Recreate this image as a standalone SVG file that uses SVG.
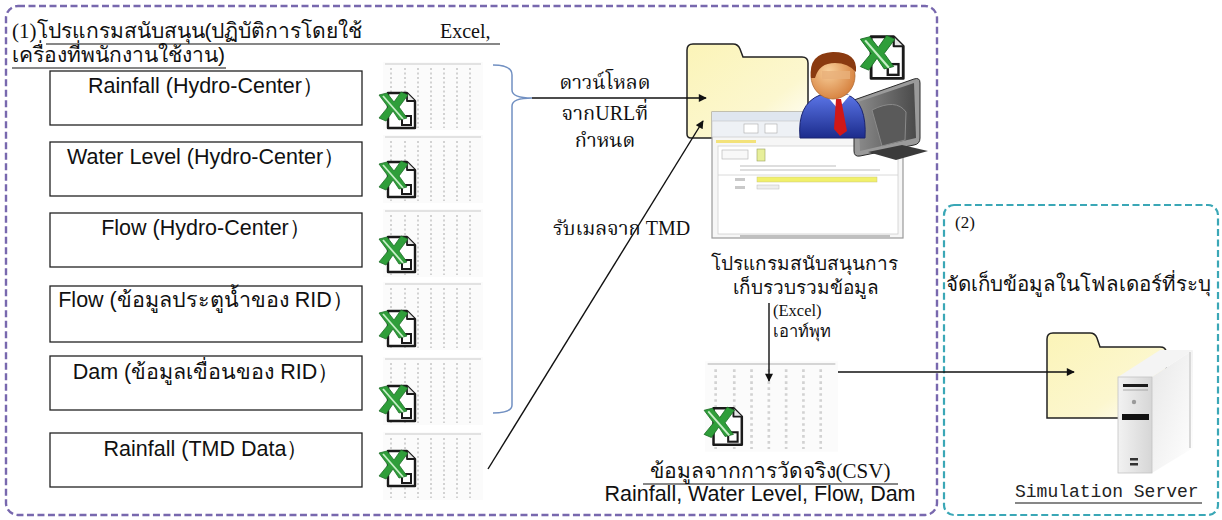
<svg xmlns="http://www.w3.org/2000/svg" width="1222" height="520" viewBox="0 0 1222 520">
  <style>
    .sans { font-family: "Liberation Sans", Arial, "Noto Sans", sans-serif; fill: #111; }
    .serif { font-family: "Liberation Serif", "Times New Roman", "Norasi", "Noto Serif Thai", serif; fill: #111; }
    .mono { font-family: "Liberation Mono", "DejaVu Sans Mono", monospace; fill: #222; }
    .src { fill: #fff; stroke: #222; stroke-width: 1.3; }
    .lbl { font-size: 21.5px; }
    .ul { stroke: #111; stroke-width: 1.2; }
    .conn { fill: none; stroke: #111; stroke-width: 1.4; }
    .folder { stroke: #222; stroke-width: 1.5; }
  </style>
  <defs>
    <marker id="arrow" viewBox="0 0 10 10" refX="9" refY="5" markerWidth="9" markerHeight="8" orient="auto" markerUnits="userSpaceOnUse">
      <path d="M0,0 L10,5 L0,10 Z" fill="#111"/>
    </marker>
    <linearGradient id="folderFill" x1="0" y1="0" x2="1" y2="1">
      <stop offset="0" stop-color="#fbf4b8"/>
      <stop offset="0.65" stop-color="#fcf7cf"/>
      <stop offset="1" stop-color="#ffffff"/>
    </linearGradient>
    <radialGradient id="skin" cx="0.4" cy="0.4" r="0.7">
      <stop offset="0" stop-color="#f8cf9a"/>
      <stop offset="1" stop-color="#d37a36"/>
    </radialGradient>
    <linearGradient id="suit" x1="0" y1="0" x2="0" y2="1">
      <stop offset="0" stop-color="#5a74e6"/>
      <stop offset="1" stop-color="#1c2c8c"/>
    </linearGradient>
    <linearGradient id="screenBack" x1="0" y1="0" x2="1" y2="0">
      <stop offset="0" stop-color="#8a8a8a"/>
      <stop offset="1" stop-color="#4a4a4a"/>
    </linearGradient>
    <linearGradient id="tower" x1="0" y1="0" x2="1" y2="0">
      <stop offset="0" stop-color="#f2f2f2"/>
      <stop offset="1" stop-color="#d6d6d6"/>
    </linearGradient>
    <linearGradient id="towerSide" x1="0" y1="0" x2="1" y2="1">
      <stop offset="0" stop-color="#e8e8e8"/>
      <stop offset="1" stop-color="#ffffff"/>
    </linearGradient>

    <!-- spreadsheet document icon: page with folded corner and green X -->
    <symbol id="xls" viewBox="0 0 40 42">
      <path d="M10,4 L29,4 L37,12 L37,39 L10,39 Z" fill="#fff" stroke="#1a1a1a" stroke-width="2.4" stroke-linejoin="round"/>
      <path d="M29,4 L29,12 L37,12" fill="#e6e6e6" stroke="#1a1a1a" stroke-width="1.8" stroke-linejoin="round"/>
      <rect x="24" y="27" width="9" height="9" fill="#fff" stroke="#1a1a1a" stroke-width="2"/>
      <path d="M1,6 L9,4 L16,13 L23,3 L30,6 L21,18 L29,29 L21,31 L15,22 L8,32 L1,29 L10,18 Z" fill="#2f9e3a" stroke="#1e6e28" stroke-width="0.8"/>
      <path d="M5,7 L25,30" stroke="#c8efc8" stroke-width="1.8"/>
    </symbol>

    <!-- faint data-sheet thumbnail -->
    <symbol id="sheet" viewBox="0 0 100 68">
      <rect x="0" y="0" width="100" height="68" fill="#fbfbfb"/>
      <line x1="2" y1="2" x2="98" y2="2" stroke="#c9c9c9" stroke-width="1.2"/>
      <g stroke="#d2d2d2" stroke-width="2" stroke-dasharray="2 2.5">
        <line x1="8" y1="6" x2="8" y2="66"/>
        <line x1="22" y1="6" x2="22" y2="66"/>
        <line x1="35" y1="6" x2="35" y2="66"/>
        <line x1="48" y1="6" x2="48" y2="66"/>
        <line x1="61" y1="6" x2="61" y2="66"/>
        <line x1="74" y1="6" x2="74" y2="66"/>
        <line x1="87" y1="6" x2="87" y2="66"/>
      </g>
    </symbol>
  </defs>

  <rect width="1222" height="520" fill="#ffffff"/>

  <!-- (1) support program area -->
  <g id="area-1">
    <rect x="6" y="6" width="931" height="509" rx="12" fill="none" stroke="#7868ae" stroke-width="2.4" stroke-dasharray="7 3.5"/>
    <text x="12" y="38" font-size="21"><tspan class="serif">(1)</tspan><tspan class="sans">โปรแกรมสนับสนุน(ปฏิบัติการโดยใช้</tspan></text>
    <text x="440" y="38" class="serif" font-size="20">Excel,</text>
    <line class="ul" x1="46" y1="44" x2="500" y2="44"/>
    <text x="12" y="62" class="sans" font-size="21">เครื่องที่พนักงานใช้งาน)</text>
    <line class="ul" x1="12" y1="68" x2="226" y2="68"/>
  </g>

  <!-- (2) simulation server area -->
  <g id="area-2">
    <rect x="944" y="205" width="274" height="310" rx="10" fill="none" stroke="#3aa7b6" stroke-width="2.2" stroke-dasharray="7 3.5"/>
    <text x="955" y="228" class="serif" font-size="17">(2)</text>
    <text x="946" y="291" class="sans" font-size="20.5">จัดเก็บข้อมูลในโฟลเดอร์ที่ระบุ</text>
  </g>

  <!-- data source nodes -->
  <g id="src-rain-hydro">
    <rect class="src" x="50" y="71" width="312" height="54"/>
    <text x="206" y="93" class="sans lbl" text-anchor="middle">Rainfall (Hydro-Center）</text>
    <use href="#sheet" x="383" y="62" width="100" height="68"/>
    <use href="#xls" x="378" y="89" width="40" height="42"/>
  </g>
  <g id="src-level-hydro">
    <rect class="src" x="50" y="142" width="312" height="54"/>
    <text x="206" y="164" class="sans lbl" text-anchor="middle">Water Level (Hydro-Center）</text>
    <use href="#sheet" x="383" y="135" width="100" height="68"/>
    <use href="#xls" x="378" y="158" width="40" height="42"/>
  </g>
  <g id="src-flow-hydro">
    <rect class="src" x="50" y="213" width="312" height="54"/>
    <text x="206" y="235" class="sans lbl" text-anchor="middle">Flow (Hydro-Center）</text>
    <use href="#sheet" x="383" y="209" width="100" height="68"/>
    <use href="#xls" x="378" y="233" width="40" height="42"/>
  </g>
  <g id="src-flow-rid">
    <rect class="src" x="50" y="286" width="312" height="56"/>
    <text x="206" y="307" class="sans lbl" text-anchor="middle">Flow (ข้อมูลประตูน้ำของ RID）</text>
    <use href="#sheet" x="383" y="282" width="100" height="68"/>
    <use href="#xls" x="378" y="307" width="40" height="42"/>
  </g>
  <g id="src-dam-rid">
    <rect class="src" x="50" y="356" width="312" height="54"/>
    <text x="206" y="379" class="sans lbl" text-anchor="middle">Dam (ข้อมูลเขื่อนของ RID）</text>
    <use href="#sheet" x="383" y="357" width="100" height="68"/>
    <use href="#xls" x="378" y="382" width="40" height="42"/>
  </g>
  <g id="src-rain-tmd">
    <rect class="src" x="50" y="433" width="312" height="54"/>
    <text x="206" y="456" class="sans lbl" text-anchor="middle">Rainfall (TMD Data）</text>
    <use href="#sheet" x="383" y="432" width="100" height="68"/>
    <use href="#xls" x="378" y="447" width="40" height="42"/>
  </g>

  <!-- collection tool: folder, program window, monitor, operator -->
  <g id="collector">
    <path class="folder" fill="url(#folderFill)" d="M687,134 L687,50 Q687,44 693,44 L733,44 Q738,44 740,49 L743,57 L802,57 Q808,57 808,63 L808,134 Q808,138 804,138 L691,138 Q687,138 687,134 Z"/>
    <use href="#xls" x="858" y="32" width="50" height="50"/>
    <!-- program window -->
    <rect x="712" y="112" width="191" height="126" fill="#f6f6f6" stroke="#9a9a9a" stroke-width="1.2"/>
    <rect x="712" y="112" width="191" height="9" fill="#dfe6ef"/>
    <rect x="712" y="121" width="191" height="16" fill="#eef1f5" stroke="#c4c4c4" stroke-width="0.6"/>
    <rect x="744" y="124" width="14" height="9" fill="#ffffff" stroke="#aaaaaa" stroke-width="0.6"/>
    <rect x="765" y="124" width="12" height="9" fill="#ffffff" stroke="#aaaaaa" stroke-width="0.6"/>
    <rect x="716" y="140" width="40" height="3" fill="#f3e27a"/>
    <rect x="718" y="146" width="180" height="88" fill="#ffffff" stroke="#cfcfcf" stroke-width="0.8"/>
    <rect x="722" y="150" width="26" height="9" fill="#f8f8f8" stroke="#b0b0b0" stroke-width="0.6"/>
    <rect x="757" y="149" width="8" height="12" fill="#e7ef9a" stroke="#9aa060" stroke-width="0.6"/>
    <line x1="740" y1="166" x2="836" y2="166" stroke="#bdbdbd" stroke-width="1"/>
    <line x1="740" y1="170" x2="880" y2="170" stroke="#bdbdbd" stroke-width="1"/>
    <line x1="718" y1="175" x2="898" y2="175" stroke="#d0d0d0" stroke-width="0.8"/>
    <rect x="735" y="178" width="10" height="3" fill="#c9c9c9"/>
    <rect x="757" y="177" width="120" height="5" fill="#f1f06a" stroke="#c9c680" stroke-width="0.5"/>
    <rect x="735" y="186" width="10" height="3" fill="#c9c9c9"/>
    <rect x="757" y="185" width="22" height="4" fill="#eeeeee" stroke="#bbbbbb" stroke-width="0.5"/>
    <line x1="740" y1="236" x2="890" y2="236" stroke="#8a8a8a" stroke-width="1.2"/>
    <!-- monitor seen from behind -->
    <path d="M854,100 L914,79 Q920,77 920,83 L920,138 Q920,144 914,145 L860,156 Q854,157 854,151 Z" fill="#9a9a9a" stroke="#2a2a2a" stroke-width="1"/>
    <path d="M858,102 L914,83 L916,138 L860,151 Z" fill="url(#screenBack)"/>
    <path d="M872,110 Q896,98 906,112 L905,140 L882,146 Z" fill="#5a5a5a" stroke="#8a8a8a" stroke-width="1"/>
    <path d="M868,152 L902,145 L928,151 L896,160 Z" fill="#3a3a3a"/>
    <!-- operator -->
    <path d="M800,138 Q797,104 820,95 L848,95 Q867,103 865,138 Z" fill="url(#suit)" stroke="#1a2470" stroke-width="1"/>
    <path d="M826,95 L838,109 L850,95 Z" fill="#ffffff"/>
    <path d="M836,99 L841,99 L847,131 L840,136 L834,129 Z" fill="#d01818"/>
    <ellipse cx="833" cy="76" rx="22" ry="23" fill="url(#skin)" stroke="#b06a30" stroke-width="0.8"/>
    <path d="M811,78 Q808,53 833,52 Q858,52 856,72 Q848,63 835,63 Q819,63 815,78 Z" fill="#8a3a10"/>
    <rect x="822" y="71" width="28" height="8" fill="#e9b07a" opacity="0.8"/>
    <text x="804" y="270" class="sans" font-size="19" text-anchor="middle">โปรแกรมสนับสนุนการ</text>
    <text x="806" y="294" class="sans" font-size="19" text-anchor="middle">เก็บรวบรวมข้อมูล</text>
    <text x="773" y="316" class="serif" font-size="16.5">(Excel)</text>
    <text x="773" y="337" class="sans" font-size="16.5">เอาท์พุท</text>
  </g>

  <!-- measured data output (CSV) -->
  <g id="csv-output">
    <use href="#sheet" x="705" y="358" width="133" height="97"/>
    <use href="#xls" x="703" y="404" width="42" height="44"/>
    <text x="770" y="478" font-size="21" text-anchor="middle"><tspan class="sans">ข้อมูลจากการวัดจริง</tspan><tspan class="serif">(CSV)</tspan></text>
    <line class="ul" x1="643" y1="484" x2="898" y2="484"/>
    <text x="760" y="501" class="sans" font-size="21.5" text-anchor="middle">Rainfall, Water Level, Flow, Dam</text>
  </g>

  <!-- simulation server: storage folder and tower -->
  <g id="sim-server">
    <path class="folder" fill="url(#folderFill)" d="M1047,418 L1047,339 Q1047,333 1053,333 L1090,333 Q1095,333 1097,338 L1100,347 L1160,347 Q1166,347 1166,352 L1166,418 Z"/>
    <path d="M1152,377 L1193,350 L1193,448 L1152,473 Z" fill="url(#towerSide)"/>
    <path d="M1118,377 L1152,377 L1193,350 L1160,350 Z" fill="#f4f4f4"/>
    <line x1="1190" y1="352" x2="1190" y2="448" stroke="#d8d8d8" stroke-width="2"/>
    <rect x="1118" y="377" width="34" height="96" fill="url(#tower)" stroke="#c4c4c4" stroke-width="0.8"/>
    <rect x="1123" y="384" width="25" height="3" fill="#1a1a1a"/>
    <line x1="1123" y1="390" x2="1148" y2="390" stroke="#9a9a9a" stroke-width="0.8"/>
    <circle cx="1134" cy="402" r="2.2" fill="#9a9a9a"/>
    <rect x="1122" y="414" width="27" height="6" fill="#111"/>
    <rect x="1130" y="458" width="8" height="2.5" fill="#333"/>
    <rect x="1130" y="463" width="8" height="2.5" fill="#333"/>
    <text x="1015" y="497" class="mono" font-size="18">Simulation Server</text>
    <line class="ul" x1="1015" y1="503" x2="1202" y2="503"/>
  </g>

  <!-- connectors -->
  <g id="connectors">
    <path d="M493,65 Q512,65 512,75 L512,90 Q512,98 532,98 Q512,98 512,106 L512,405 Q512,413 493,413" fill="none" stroke="#7190c2" stroke-width="1.5"/>
    <line class="conn" x1="532" y1="98" x2="706" y2="98" marker-end="url(#arrow)"/>
    <text x="605" y="89" class="serif" font-size="20" text-anchor="middle">ดาวน์โหลด</text>
    <text x="605" y="120" class="serif" font-size="20" text-anchor="middle">จากURLที่</text>
    <text x="605" y="147" class="serif" font-size="20" text-anchor="middle">กำหนด</text>
    <line class="conn" x1="488" y1="469" x2="703" y2="121" marker-end="url(#arrow)"/>
    <text x="553" y="235" class="serif" font-size="20">รับเมลจาก TMD</text>
    <line class="conn" x1="769" y1="303" x2="769" y2="381" marker-end="url(#arrow)"/>
    <line class="conn" x1="838" y1="372" x2="1074" y2="372" marker-end="url(#arrow)"/>
  </g>
</svg>
